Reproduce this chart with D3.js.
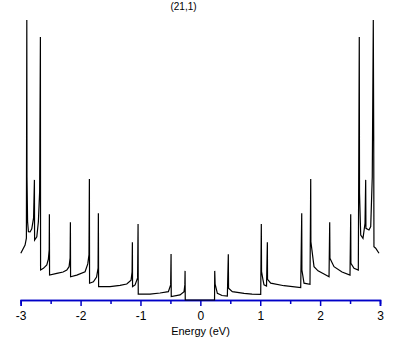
<!DOCTYPE html>
<html>
<head>
<meta charset="utf-8">
<script src="https://cdn.jsdelivr.net/npm/d3@7"></script>
<style>
  body { margin: 0; background: #fff; }
  svg { display: block; }
  .axis text { font-family: "Liberation Sans", Arial, sans-serif; font-size: 12px; fill: #000; }
</style>
</head>
<body>
<svg width="409" height="345"></svg>
<script>
// DOS of the (21,1) tube (energy in eV, dos in arbitrary units)
var energy = [
  -2.998, -2.927, -2.905, -2.898, -2.895, -2.885, -2.871, -2.843, -2.815, -2.785,
  -2.771, -2.768, -2.731, -2.705, -2.684, -2.671, -2.668, -2.621, -2.564, -2.538,
  -2.524, -2.521, -2.518, -2.397, -2.292, -2.230, -2.192, -2.175, -2.170, -2.167,
  -2.063, -1.925, -1.880, -1.860, -1.853, -1.850, -1.786, -1.733, -1.708, -1.703,
  -1.699, -1.508, -1.341, -1.229, -1.157, -1.140, -1.135, -1.132, -1.090, -1.048,
  -1.040, -1.037, -0.840, -0.673, -0.534, -0.496, -0.489, -0.486, -0.339, -0.272,
  -0.259, -0.255, -0.252,
  0.237, 0.240, 0.247, 0.284, 0.362, 0.451, 0.467, 0.471, 0.534, 0.730,
  0.863, 1.008, 1.018, 1.022, 1.047, 1.063, 1.105, 1.119, 1.122, 1.175,
  1.397, 1.676, 1.693, 1.696, 1.731, 1.831, 1.843, 1.846, 1.898, 1.965,
  2.065, 2.149, 2.160, 2.164, 2.232, 2.366, 2.499, 2.511, 2.514, 2.566,
  2.638, 2.654, 2.658, 2.678, 2.716, 2.750, 2.761, 2.765, 2.816, 2.845,
  2.871, 2.888, 2.895, 2.899, 2.928, 2.983
];
var dos = [
  1.67, 1.96, 2.21, 10.0, 4.39, 2.79, 2.44, 2.43, 2.54, 2.93,
  4.29, 2.14, 2.26, 2.79, 3.86, 9.39, 1.07, 1.13, 1.25, 1.46,
  1.79, 3.06, 0.89, 0.95, 1.00, 1.07, 1.19, 1.50, 2.78, 0.83,
  0.89, 1.01, 1.29, 1.61, 4.32, 0.60, 0.65, 0.82, 1.14, 3.10,
  0.48, 0.48, 0.52, 0.57, 0.71, 1.00, 2.06, 0.48, 0.54, 0.79,
  2.71, 0.21, 0.21, 0.25, 0.30, 0.54, 1.64, 0.12, 0.18, 0.30,
  0.54, 1.04, 0,
  0, 1.04, 0.57, 0.24, 0.16, 0.14, 1.63, 0.42, 0.30, 0.24,
  0.21, 0.20, 2.71, 1.01, 0.71, 0.54, 0.50, 2.06, 0.74, 0.60,
  0.51, 0.44, 3.10, 1.07, 0.60, 0.56, 4.32, 2.08, 1.19, 1.04,
  0.93, 0.83, 2.78, 1.49, 1.19, 1.00, 0.89, 3.06, 1.31, 1.13,
  1.07, 9.39, 3.82, 2.32, 2.20, 2.74, 4.29, 2.56, 2.50, 2.62,
  4.39, 10.0, 5.89, 1.90, 1.85, 1.67
];
var majorTicks = [-3, -2, -1, 0, 1, 2, 3];
var minorTicks = [-2.5, -1.5, -0.5, 0.5, 1.5, 2.5];
var title = "(21,1)";
var xLabel = "Energy (eV)";

var axisY = 300;

var xScale = d3.scaleLinear()
  .domain([-3, 3])
  .range([20.7, 380]);
var yScale = d3.scaleLinear()
  .domain([0, 10])
  .range([axisY, 20]);

var svg = d3.select('svg');

// minor ticks (no labels)
var minorAxis = d3.axisBottom(xScale)
  .tickValues(minorTicks)
  .tickSize(4)
  .tickFormat('');
var gMinor = svg.append('g')
  .attr('class', 'axis')
  .attr('transform', 'translate(0,' + axisY + ')')
  .call(minorAxis);

var xAxis = d3.axisBottom(xScale)
  .tickValues(majorTicks)
  .tickSize(6)
  .tickPadding(5)
  .tickFormat(function(d) { return String(d); });
var gAxis = svg.append('g')
  .attr('class', 'axis')
  .attr('transform', 'translate(0,' + axisY + ')')
  .call(xAxis);

svg.selectAll('.axis path, .axis line')
  .attr('stroke', '#0000c8')
  .attr('stroke-width', 1.5);

svg.append('text')
  .attr('x', 200.5)
  .attr('y', 335)
  .attr('text-anchor', 'middle')
  .style('font-family', '"Liberation Sans", Arial, sans-serif')
  .style('font-size', '11px')
  .text(xLabel);

svg.append('text')
  .attr('x', 183.5)
  .attr('y', 10)
  .attr('text-anchor', 'middle')
  .style('font-family', '"Liberation Sans", Arial, sans-serif')
  .style('font-size', '10px')
  .text(title);

var points = energy.map(function(e, i) { return [e, dos[i]]; });

var line = d3.line()
  .x(function(d) { return xScale(d[0]); })
  .y(function(d) { return yScale(d[1]); });

svg.append('path')
  .datum(points)
  .attr('d', line)
  .attr('fill', 'none')
  .attr('stroke', '#000')
  .attr('stroke-width', 1.2);
</script>
</body>
</html>
